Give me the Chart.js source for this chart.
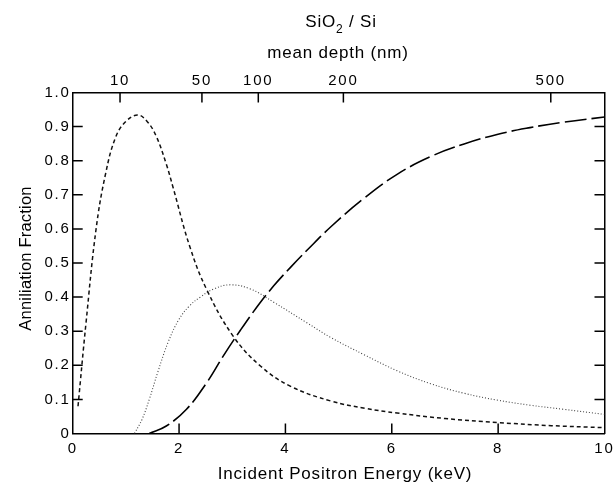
<!DOCTYPE html>
<html>
<head>
<meta charset="utf-8">
<script src="https://cdn.jsdelivr.net/npm/chart.js@4.4.1/dist/chart.umd.min.js"></script>
<style>
  html, body { margin: 0; padding: 0; background: #fff; }
  #wrap { width: 613px; height: 485px; }
</style>
</head>
<body>
<div id="wrap"><canvas id="c" width="613" height="485"></canvas></div>
<script>
// ---- Data ----
const surfaceE = [0.10, 0.25, 0.44, 0.62, 0.81, 1.00, 1.22, 1.40, 1.57, 1.76, 1.89, 2.20, 2.52, 3.02, 3.53, 4.09, 4.86, 5.50, 6.10, 7.00, 8.00, 9.00, 10.00];
const surfaceF = [0.08, 0.324, 0.600, 0.763, 0.870, 0.915, 0.934, 0.915, 0.872, 0.790, 0.720, 0.549, 0.422, 0.285, 0.198, 0.139, 0.095, 0.074, 0.060, 0.044, 0.032, 0.023, 0.017];

const oxideE = [1.16, 1.30, 1.44, 1.60, 1.80, 2.00, 2.20, 2.40, 2.64, 2.96, 3.34, 3.78, 4.41, 4.86, 5.48, 6.10, 6.73, 7.36, 7.98, 8.60, 9.23, 10.00];
const oxideF = [0.000, 0.040, 0.100, 0.180, 0.270, 0.335, 0.375, 0.400, 0.423, 0.436, 0.424, 0.385, 0.324, 0.281, 0.231, 0.184, 0.146, 0.118, 0.098, 0.083, 0.071, 0.056];

const bulkE = [1.44, 1.76, 2.14, 2.52, 2.83, 3.15, 3.46, 3.78, 4.10, 4.41, 4.86, 5.48, 6.10, 6.73, 7.36, 7.98, 8.60, 9.23, 10.00];
const bulkF = [0.000, 0.022, 0.071, 0.149, 0.227, 0.302, 0.370, 0.433, 0.488, 0.538, 0.607, 0.690, 0.760, 0.812, 0.849, 0.877, 0.897, 0.913, 0.928];

// top axis: mean depth labels and the energies where they sit
const depthLabels = ['10', '50', '100', '200', '500'];
const depthEnergies = [0.89, 2.43, 3.49, 5.09, 8.99];

const xTickValues = [0, 2, 4, 6, 8, 10];
const yTickStep = 0.1;

const toPts = (xs, ys) => xs.map((x, i) => ({ x: x, y: ys[i] }));

const FONT = 'Liberation Sans, Arial, sans-serif';

const whiteBg = {
  id: 'whiteBg',
  beforeDraw(chart) {
    const ctx = chart.ctx;
    ctx.save();
    ctx.fillStyle = '#fff';
    ctx.fillRect(0, 0, chart.width, chart.height);
    ctx.restore();
    ctx.letterSpacing = '1.8px';
  }
};

const inwardTicks = {
  id: 'inwardTicks',
  afterDatasetsDraw(chart) {
    const ctx = chart.ctx;
    const a = chart.chartArea;
    const L = 10;
    ctx.save();
    ctx.strokeStyle = '#000';
    ctx.lineWidth = 1.5;
    ctx.setLineDash([]);
    ctx.beginPath();
    const sx = chart.scales.x, sy = chart.scales.y, sx2 = chart.scales.x2, sy2 = chart.scales.y2;
    sx.ticks.forEach(t => {
      if (t.value <= 0 || t.value >= 10) return;
      const p = sx.getPixelForValue(t.value);
      ctx.moveTo(p, a.bottom); ctx.lineTo(p, a.bottom - L);
    });
    sx2.ticks.forEach(t => {
      const p = sx2.getPixelForValue(t.value);
      ctx.moveTo(p, a.top); ctx.lineTo(p, a.top + L);
    });
    sy.ticks.forEach(t => {
      if (t.value <= 0.001 || t.value >= 0.999) return;
      const p = sy.getPixelForValue(t.value);
      ctx.moveTo(a.left, p); ctx.lineTo(a.left + L, p);
    });
    sy2.ticks.forEach(t => {
      if (t.value <= 0.001 || t.value >= 0.999) return;
      const p = sy2.getPixelForValue(t.value);
      ctx.moveTo(a.right, p); ctx.lineTo(a.right - L, p);
    });
    ctx.stroke();
    ctx.restore();
  }
};

const titles = {
  id: 'titles',
  afterDraw(chart) {
    const ctx = chart.ctx;
    ctx.save();
    ctx.fillStyle = '#000';
    ctx.textBaseline = 'alphabetic';
    ctx.letterSpacing = '0.8px';
    // SiO2 / Si
    ctx.font = '17px ' + FONT;
    const p1 = 'SiO', p3 = ' / Si';
    const w1 = ctx.measureText(p1).width;
    const w3 = ctx.measureText(p3).width;
    ctx.font = '12px ' + FONT;
    const w2 = ctx.measureText('2').width;
    const total = w1 + w2 + w3;
    let x0 = 341 - total / 2;
    ctx.textAlign = 'left';
    ctx.font = '17px ' + FONT;
    ctx.fillText(p1, x0, 27);
    ctx.font = '12px ' + FONT;
    ctx.fillText('2', x0 + w1, 33);
    ctx.font = '17px ' + FONT;
    ctx.fillText(p3, x0 + w1 + w2, 27);
    // mean depth
    ctx.textAlign = 'center';
    ctx.fillText('mean depth (nm)', 338, 58);
    // x title
    ctx.fillText('Incident Positron Energy (keV)', 345, 479);
    // y title
    ctx.letterSpacing = '0.2px';
    ctx.font = '16.5px ' + FONT;
    ctx.translate(30.5, 258.5);
    ctx.rotate(-Math.PI / 2);
    ctx.fillText('Anniliation Fraction', 0, 0);
    ctx.restore();
  }
};

const tickFont = { family: FONT, size: 15 };
const zeroPad = s => { s.paddingLeft = 0; s.paddingRight = 0; s.paddingTop = 0; s.paddingBottom = 0; };

new Chart(document.getElementById('c'), {
  type: 'scatter',
  data: {
    datasets: [
      {
        label: 'surface',
        data: toPts(surfaceE, surfaceF),
        showLine: true,
        borderColor: '#111',
        borderWidth: 1.5,
        borderDash: [4, 3],
        pointRadius: 0,
        tension: 0.4,
        xAxisID: 'x', yAxisID: 'y'
      },
      {
        label: 'oxide',
        data: toPts(oxideE, oxideF),
        showLine: true,
        borderColor: '#444',
        borderWidth: 1.1,
        borderDash: [1, 2],
        pointRadius: 0,
        tension: 0.4,
        xAxisID: 'x', yAxisID: 'y'
      },
      {
        label: 'bulk',
        data: toPts(bulkE, bulkF),
        showLine: true,
        borderColor: '#000',
        borderWidth: 1.6,
        borderDash: [22, 5],
        pointRadius: 0,
        tension: 0.4,
        xAxisID: 'x', yAxisID: 'y'
      }
    ]
  },
  options: {
    responsive: false,
    animation: false,
    devicePixelRatio: 1,
    layout: { padding: 0 },
    plugins: { legend: { display: false }, tooltip: { enabled: false } },
    scales: {
      x: {
        type: 'linear', position: 'bottom', min: 0, max: 10,
        afterBuildTicks: s => { s.ticks = xTickValues.map(v => ({ value: v })); },
        ticks: { font: tickFont, color: '#000', padding: 6, maxRotation: 0, autoSkip: false,
                 callback: v => String(v) },
        grid: { display: false, drawTicks: false },
        border: { display: true, color: '#000', width: 1.5 },
        afterFit: s => { s.height = 51.5; zeroPad(s); }
      },
      x2: {
        type: 'linear', position: 'top', min: 0, max: 10,
        afterBuildTicks: s => { s.ticks = depthEnergies.map(v => ({ value: v })); },
        ticks: { font: tickFont, color: '#000', padding: 3, maxRotation: 0, autoSkip: false,
                 callback: (v, i) => depthLabels[i] },
        grid: { display: false, drawTicks: false },
        border: { display: true, color: '#000', width: 1.5 },
        afterFit: s => { s.height = 92.5; zeroPad(s); }
      },
      y: {
        type: 'linear', position: 'left', min: 0, max: 1,
        ticks: { stepSize: yTickStep, font: tickFont, color: '#000', padding: 2,
                 callback: v => (Math.abs(v) < 1e-9 ? '0' : Number(v).toFixed(1)) },
        grid: { display: false, drawTicks: false },
        border: { display: true, color: '#000', width: 1.5 },
        afterFit: s => { s.width = 72.7; zeroPad(s); }
      },
      y2: {
        type: 'linear', position: 'right', min: 0, max: 1,
        ticks: { stepSize: yTickStep, display: false },
        grid: { display: false, drawTicks: false },
        border: { display: true, color: '#000', width: 1.5 },
        afterFit: s => { s.width = 8.5; zeroPad(s); }
      }
    }
  },
  plugins: [whiteBg, inwardTicks, titles]
});
</script>
</body>
</html>
